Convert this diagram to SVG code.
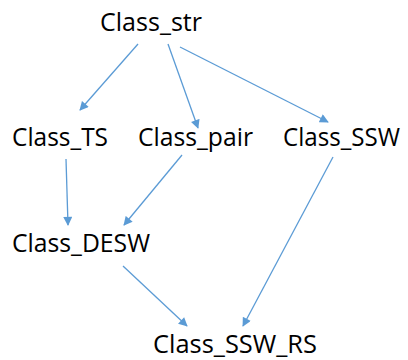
<svg xmlns="http://www.w3.org/2000/svg" width="408" height="360" viewBox="0 0 408 360">
<style>
text{font-family:"Open Sans","Noto Sans",sans-serif;font-size:25px;fill:#000}
.c{stroke:#5B9BD5;stroke-width:1.3;fill:none;marker-end:url(#ah)}
</style>
<defs>
<marker id="ah" viewBox="0 0 10 10" refX="9" refY="5" markerWidth="10" markerHeight="9" markerUnits="userSpaceOnUse" orient="auto">
<path d="M0,0L10,5L0,10z" fill="#5B9BD5"/>
</marker>
</defs>
<rect width="408" height="360" fill="#fff"/>
<g id="connectors">
<line class="c" x1="138" y1="44" x2="80" y2="110"/>
<line class="c" x1="168" y1="44" x2="198" y2="128"/>
<line class="c" x1="180" y1="47" x2="328" y2="122"/>
<line class="c" x1="66" y1="159" x2="68" y2="225"/>
<line class="c" x1="182" y1="155" x2="124" y2="225"/>
<line class="c" x1="333" y1="157" x2="243" y2="326"/>
<line class="c" x1="123" y1="266" x2="187" y2="326"/>
</g>
<g id="n_str"><text x="100" y="31" textLength="102" lengthAdjust="spacingAndGlyphs">Class_str</text></g>
<g id="n_ts"><text x="12" y="146" textLength="96" lengthAdjust="spacingAndGlyphs">Class_TS</text></g>
<g id="n_pair"><text x="138" y="146" textLength="115" lengthAdjust="spacingAndGlyphs">Class_pair</text></g>
<g id="n_ssw"><text x="283" y="146" textLength="117" lengthAdjust="spacingAndGlyphs">Class_SSW</text></g>
<g id="n_desw"><text x="12" y="252" textLength="138" lengthAdjust="spacingAndGlyphs">Class_DESW</text></g>
<g id="n_rs"><text x="153" y="353" textLength="164" lengthAdjust="spacingAndGlyphs">Class_SSW_RS</text></g>
</svg>
